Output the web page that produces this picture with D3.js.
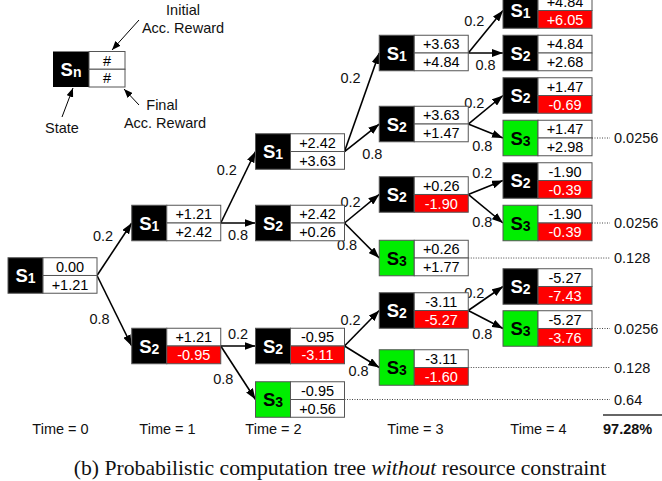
<!DOCTYPE html>
<html>
<head>
<meta charset="utf-8">
<script src="https://cdn.jsdelivr.net/npm/d3@7"></script>
<style>
  html, body { margin: 0; padding: 0; background: #fff; }
  svg { display: block; font-family: "Liberation Sans", Arial, sans-serif; }
</style>
</head>
<body>
<div id="chart"></div>
<script>
// tree data
const nodeTime = [0, 1, 1, 2, 2, 2, 2, 3, 3, 3, 3, 3, 3, 4, 4, 4, 4, 4, 4, 4, 4];
const nodeState = ["1", "1", "2", "1", "2", "2", "3", "1", "2", "2", "3", "2", "3", "1", "2", "2", "3", "2", "3", "2", "3"];
const initReward = ["0.00", "+1.21", "+1.21", "+2.42", "+2.42", "-0.95", "-0.95", "+3.63", "+3.63", "+0.26", "+0.26",
  "-3.11", "-3.11", "+4.84", "+4.84", "+1.47", "+1.47", "-1.90", "-1.90", "-5.27", "-5.27"];
const finalReward = ["+1.21", "+2.42", "-0.95", "+3.63", "+0.26", "-3.11", "+0.56", "+4.84", "+1.47", "-1.90", "+1.77",
  "-5.27", "-1.60", "+6.05", "+2.68", "-0.69", "+2.98", "-0.39", "-0.39", "-7.43", "-3.76"];
const outOfBound = [false, false, true, false, false, true, false, false, false, true, false,
  true, true, true, false, true, false, true, true, true, true];
const nodeRow = [6.235, 5.0, 7.894, 3.318, 5.0, 7.894, 9.153, 1.0, 2.671, 4.329, 5.824,
  7.059, 8.4, 0, 1, 2, 3, 4, 5.0, 6.494, 7.482];
const parentIndex = [null, 0, 0, 1, 1, 2, 2, 3, 3, 4, 4, 5, 5, 7, 7, 8, 8, 9, 9, 11, 11];
const branchProb = [null, "0.2", "0.8", "0.2", "0.8", "0.2", "0.8", "0.2", "0.8", "0.2", "0.8",
  "0.2", "0.8", "0.2", "0.8", "0.2", "0.8", "0.2", "0.8", "0.2", "0.8"];

// absorbing (S3) leaves and their path probabilities
const leafIndex = [16, 18, 10, 20, 12, 6];
const leafProb = ["0.0256", "0.0256", "0.128", "0.0256", "0.128", "0.64"];
const totalProb = "97.28%";

const timeSteps = [0, 1, 2, 3, 4];
const timeLabels = ["Time = 0", "Time = 1", "Time = 2", "Time = 3", "Time = 4"];
const caption = ["(b) Probabilistic computation tree ", "without", " resource constraint"];

const width = 662;
const height = 481;
const stateW = 35;
const valueW = 54;
const nodeH = 35.5;
const fontSize = 14.5;
const colors = { black: "#000", green: "#00ee00", red: "#ff0000", border: "#555" };

const svg = d3.select("#chart")
  .append("svg")
  .attr("width", width)
  .attr("height", height);

const x = d3.scaleLinear().domain([0, 4]).range([8, 503]);
const y = d3.scaleLinear().domain([0, 10]).range([10.5, 435.5]);
const xLabel = d3.scaleLinear().domain(timeSteps).range([60, 167, 273, 415, 538]);

const defs = svg.append("defs");
defs.append("marker")
  .attr("id", "arrow")
  .attr("viewBox", "0 0 11 8")
  .attr("refX", 11)
  .attr("refY", 4)
  .attr("markerWidth", 11)
  .attr("markerHeight", 8)
  .attr("markerUnits", "userSpaceOnUse")
  .attr("orient", "auto")
  .append("path")
  .attr("d", "M0,0L11,4L0,8Z")
  .attr("fill", "#000");
defs.append("marker")
  .attr("id", "arrow-small")
  .attr("viewBox", "0 0 9 7")
  .attr("refX", 9)
  .attr("refY", 3.5)
  .attr("markerWidth", 9)
  .attr("markerHeight", 7)
  .attr("markerUnits", "userSpaceOnUse")
  .attr("orient", "auto")
  .append("path")
  .attr("d", "M0,0L9,3.5L0,7Z")
  .attr("fill", "#000");

const nodes = nodeTime.map((t, i) => ({
  i,
  time: t,
  state: nodeState[i],
  init: initReward[i],
  final: finalReward[i],
  bad: outOfBound[i],
  row: nodeRow[i],
  parent: parentIndex[i],
  p: branchProb[i],
}));
nodes.forEach((d) => {
  d.x = x(d.time);
  d.cy = y(d.row);
});
const links = nodes.filter((d) => d.parent !== null).map((d) => ({
  source: nodes[d.parent],
  target: d,
  p: d.p,
}));

// dotted lines to the leaf probabilities
const gLeaf = svg.append("g").attr("class", "leaves");
leafIndex.forEach((li, k) => {
  const d = nodes[li];
  gLeaf.append("line")
    .attr("x1", d.x + stateW + valueW)
    .attr("x2", 610)
    .attr("y1", d.cy)
    .attr("y2", d.cy)
    .attr("stroke", "#444")
    .attr("stroke-width", 1)
    .attr("stroke-dasharray", "1,1.5");
  gLeaf.append("text")
    .attr("x", 614)
    .attr("y", d.cy)
    .attr("dy", "0.36em")
    .attr("font-size", fontSize)
    .attr("fill", "#111")
    .text(leafProb[k]);
});

// edges
const gLinks = svg.append("g").attr("class", "links");
gLinks.selectAll("line")
  .data(links)
  .join("line")
  .attr("x1", (d) => d.source.x + stateW + valueW)
  .attr("y1", (d) => d.source.cy)
  .attr("x2", (d) => d.target.x)
  .attr("y2", (d) => d.target.cy)
  .attr("stroke", "#000")
  .attr("stroke-width", 1.6)
  .attr("marker-end", "url(#arrow)");

function labelPos(d) {
  const sx = d.source.x + stateW + valueW;
  const sy = d.source.cy;
  const ex = d.target.x;
  const ey = d.target.cy;
  const dy = ey - sy;
  const at = (t) => [sx + (ex - sx) * t, sy + dy * t];
  if (Math.abs(dy) < 1) {
    return [(sx + ex) / 2, d.p === "0.2" ? sy - 12 : sy + 12];
  }
  if (d.p === "0.2") {
    if (dy > -20) return [sx + 14, Math.min(sy, ey) - 8];
    const [px, py] = at(0.75);
    return [px - 20, py];
  }
  if (dy > 30) {
    const [px, py] = at(0.62);
    return [px - 19, py];
  }
  if (dy > 0) {
    const t = 14 / (ex - sx);
    return [sx + 14, sy + dy * t + 16];
  }
  return [ex - 7, Math.max(sy, ey) + 2];
}

gLinks.selectAll("text")
  .data(links)
  .join("text")
  .attr("x", (d) => labelPos(d)[0])
  .attr("y", (d) => labelPos(d)[1])
  .attr("dy", "0.36em")
  .attr("text-anchor", "middle")
  .attr("font-size", fontSize)
  .attr("fill", "#111")
  .text((d) => d.p);

// node boxes
function drawNode(g, state, top, bottom, bad, vw) {
  const isAbsorbing = state === "3";
  g.append("rect")
    .attr("width", stateW)
    .attr("height", nodeH)
    .attr("fill", isAbsorbing ? colors.green : colors.black)
    .attr("stroke", colors.border)
    .attr("stroke-width", 1);
  const label = g.append("text")
    .attr("x", stateW / 2)
    .attr("y", nodeH / 2)
    .attr("dy", "0.36em")
    .attr("text-anchor", "middle")
    .attr("font-weight", "bold")
    .attr("font-size", 18.5)
    .attr("fill", isAbsorbing ? "#000" : "#fff");
  label.append("tspan").text("S");
  label.append("tspan").attr("font-size", 14).attr("dy", 1).text(state);

  g.append("rect")
    .attr("x", stateW)
    .attr("width", vw)
    .attr("height", nodeH / 2)
    .attr("fill", "#fff")
    .attr("stroke", colors.border);
  g.append("rect")
    .attr("x", stateW)
    .attr("y", nodeH / 2)
    .attr("width", vw)
    .attr("height", nodeH / 2)
    .attr("fill", bad ? colors.red : "#fff")
    .attr("stroke", colors.border);
  g.append("text")
    .attr("x", stateW + vw / 2)
    .attr("y", nodeH / 4)
    .attr("dy", "0.36em")
    .attr("text-anchor", "middle")
    .attr("font-size", fontSize)
    .attr("fill", "#000")
    .text(top);
  g.append("text")
    .attr("x", stateW + vw / 2)
    .attr("y", (nodeH * 3) / 4)
    .attr("dy", "0.36em")
    .attr("text-anchor", "middle")
    .attr("font-size", fontSize)
    .attr("fill", bad ? "#fff" : "#000")
    .text(bottom);
}

svg.append("g")
  .attr("class", "nodes")
  .selectAll("g")
  .data(nodes)
  .join("g")
  .attr("transform", (d) => `translate(${d.x},${d.cy - nodeH / 2})`)
  .each(function (d) {
    drawNode(d3.select(this), d.state, d.init, d.final, d.bad, valueW);
  });

// legend node with its notes
const legend = svg.append("g").attr("transform", "translate(53,51.5)");
legend.append("rect")
  .attr("width", stateW + 1)
  .attr("height", nodeH)
  .attr("fill", "#000");
const lt = legend.append("text")
  .attr("x", 18)
  .attr("y", nodeH / 2)
  .attr("dy", "0.36em")
  .attr("text-anchor", "middle")
  .attr("font-weight", "bold")
  .attr("font-size", 18.5)
  .attr("fill", "#fff");
lt.append("tspan").text("S");
lt.append("tspan").attr("font-size", 14).attr("dy", 1).text("n");
[0, 1].forEach((r) => {
  legend.append("rect")
    .attr("x", 36)
    .attr("y", (r * nodeH) / 2)
    .attr("width", 36)
    .attr("height", nodeH / 2)
    .attr("fill", "#fff")
    .attr("stroke", colors.border);
  legend.append("text")
    .attr("x", 54)
    .attr("y", (r * nodeH) / 2 + nodeH / 4)
    .attr("dy", "0.36em")
    .attr("text-anchor", "middle")
    .attr("font-size", fontSize)
    .text("#");
});

const notes = [
  { lines: ["Initial", "Acc. Reward"], cx: 183, y0: 10, from: [139, 20], to: [112, 50] },
  { lines: ["Final", "Acc. Reward"], cx: 165, y0: 105, from: [139, 105], to: [124, 89] },
  { lines: ["State"], cx: 62, y0: 128, from: [62, 117], to: [73, 88] },
];
notes.forEach((n) => {
  svg.append("line")
    .attr("x1", n.from[0]).attr("y1", n.from[1])
    .attr("x2", n.to[0]).attr("y2", n.to[1])
    .attr("stroke", "#000")
    .attr("stroke-width", 1)
    .attr("marker-end", "url(#arrow-small)");
  n.lines.forEach((t, k) => {
    svg.append("text")
      .attr("x", k === 0 && t === "Final" ? n.cx - 3 : n.cx)
      .attr("y", n.y0 + k * 18)
      .attr("dy", "0.36em")
      .attr("text-anchor", "middle")
      .attr("font-size", fontSize)
      .attr("fill", "#111")
      .text(t);
  });
});

// time axis
const gx = svg.append("g")
  .attr("transform", "translate(0,429)")
  .call(d3.axisBottom(xLabel).tickValues(timeSteps).tickSize(0).tickPadding(0)
    .tickFormat((d) => timeLabels[d]))
  .attr("font-size", null)
  .attr("font-family", null)
  .call((g) => g.select(".domain").remove());
gx.selectAll("text")
  .attr("y", 0)
  .attr("dy", "0.36em")
  .attr("font-size", fontSize)
  .attr("fill", "#111");

// total
svg.append("line")
  .attr("x1", 603).attr("x2", 662)
  .attr("y1", 415).attr("y2", 415)
  .attr("stroke", "#333")
  .attr("stroke-width", 1.5);
svg.append("text")
  .attr("x", 603)
  .attr("y", 429)
  .attr("dy", "0.36em")
  .attr("font-size", fontSize)
  .attr("font-weight", "bold")
  .attr("fill", "#111")
  .text(totalProb);

// caption
const cap = svg.append("text")
  .attr("x", 340)
  .attr("y", 467)
  .attr("dy", "0.36em")
  .attr("text-anchor", "middle")
  .attr("font-family", "'Liberation Serif', 'Times New Roman', serif")
  .attr("font-size", 21.7)
  .attr("fill", "#111");
cap.append("tspan").text(caption[0]);
cap.append("tspan").attr("font-style", "italic").text(caption[1]);
cap.append("tspan").text(caption[2]);
</script>
</body>
</html>
